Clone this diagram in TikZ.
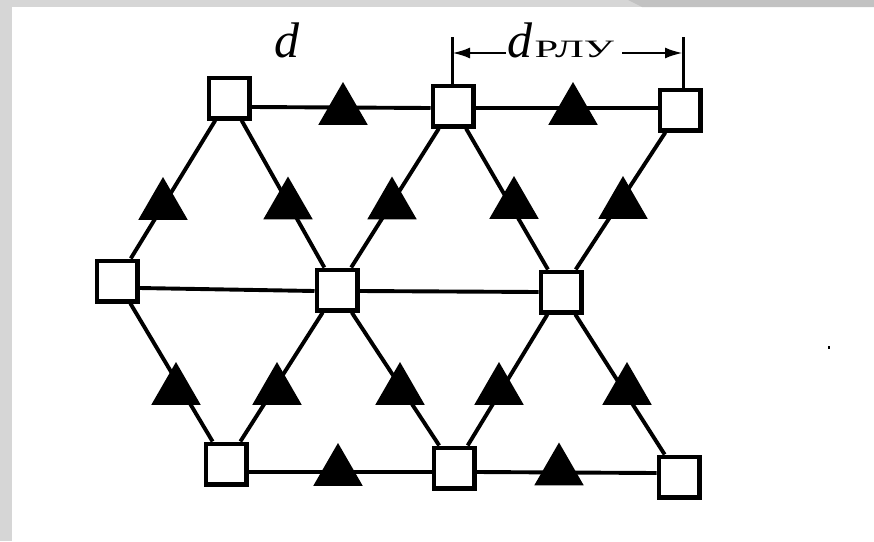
\documentclass[tikz,border=0pt]{standalone}
\usepackage{fontspec}
\setmainfont{Liberation Serif}
\usepackage{graphicx}
\usetikzlibrary{shapes.geometric,arrows.meta}
\definecolor{framegrey}{RGB}{214,214,214}
\definecolor{framedark}{RGB}{194,194,194}
\begin{document}
\begin{tikzpicture}[x=1pt,y=-1pt,
  sq/.style={draw, line width=4.5pt, fill=white, minimum size=40.5pt, inner sep=0pt},
  tri/.style={fill=black, regular polygon, regular polygon sides=3, minimum size=57pt, inner sep=0pt},
  link/.style={line width=3.9pt},
  tick/.style={line width=3pt},
  dim/.style={line width=2.8pt, -{Latex[length=18pt,width=11pt]}},
  ]
\useasboundingbox (0,0) rectangle (874,541);
\fill[white] (0,0) rectangle (874,541);
\fill[framegrey] (0,0) rectangle (874,7);
\fill[framegrey] (0,0) rectangle (12,541);
\fill[framedark] (628,0) -- (874,0) -- (874,7) -- (642,7) -- cycle;
% stations
\node[sq] (TL) at (229,98) {};
\node[sq] (TM) at (453,106) {};
\node[sq] (TR) at (680,110) {};
\node[sq] (ML) at (117,281) {};
\node[sq] (MM) at (337,290) {};
\node[sq] (MR) at (561,292) {};
\node[sq] (BL) at (226,464) {};
\node[sq] (BM) at (454,468) {};
\node[sq] (BR) at (679,477) {};
% links
\draw[link] ([yshift=-9pt]TL.east) -- ([yshift=-2pt]TM.west);
\draw[link] ([yshift=-2pt]TM.east) -- ([yshift=2pt]TR.west);
\draw[link] ([yshift=-7pt]ML.east) -- ([yshift=-1pt]MM.west);
\draw[link] ([yshift=-1pt]MM.east) -- (MR.west);
\draw[link] ([yshift=-8pt]BL.east) -- ([yshift=-4pt]BM.west);
\draw[link] ([yshift=-4pt]BM.east) -- ([yshift=4pt]BR.west);
\draw[link] (TL) -- (ML);
\draw[link] (TL) -- (MM);
\draw[link] (TM) -- (MM);
\draw[link] (TM) -- (MR);
\draw[link] (TR) -- (MR);
\draw[link] (ML) -- (BL);
\draw[link] (MM) -- (BL);
\draw[link] (MM) -- (BM);
\draw[link] (MR) -- (BM);
\draw[link] (MR) -- (BR);
% relays
\node[tri] (T1) at (343,110.5) {};
\node[tri] (T2) at (573,110.5) {};
\node[tri] (U1) at (163,205.5) {};
\node[tri] (U2) at (288,205) {};
\node[tri] (U3) at (392,205) {};
\node[tri] (U4) at (514,204.5) {};
\node[tri] (U5) at (623,204.5) {};
\node[tri] (L1) at (176,390.5) {};
\node[tri] (L2) at (277,390.5) {};
\node[tri] (L3) at (400,390.5) {};
\node[tri] (L4) at (499,390.5) {};
\node[tri] (L5) at (627,390.5) {};
\node[tri] (B1) at (338,471.5) {};
\node[tri] (B2) at (559,471) {};
% labels
\node[anchor=base, inner sep=0pt] (dlab) at (287,57) {\fontsize{50}{50}\selectfont\itshape d};
\node[anchor=base west, inner sep=0pt] (drlab) at (507,57) {\fontsize{50}{50}\selectfont\itshape d};
\node[anchor=base west, inner sep=0pt] (sublab) at ([xshift=2pt]drlab.base east) {\fontsize{25}{25}\selectfont\upshape\scalebox{1.7}[1.0]{РЛУ}};
% dimension
\coordinate (tl) at (452,37);
\coordinate (tr) at (683,37);
\coordinate (al) at (506,53);
\coordinate (ar) at (622,53);
\draw[tick] (tl) -- (tl |- TM.north);
\draw[tick] (tr) -- (tr |- TR.north);
\draw[dim] (al) -- (al -| tl);
\draw[dim] (ar) -- (ar -| tr);
% speck
\fill (828,346) rectangle (830,349);
\end{tikzpicture}
\end{document}
